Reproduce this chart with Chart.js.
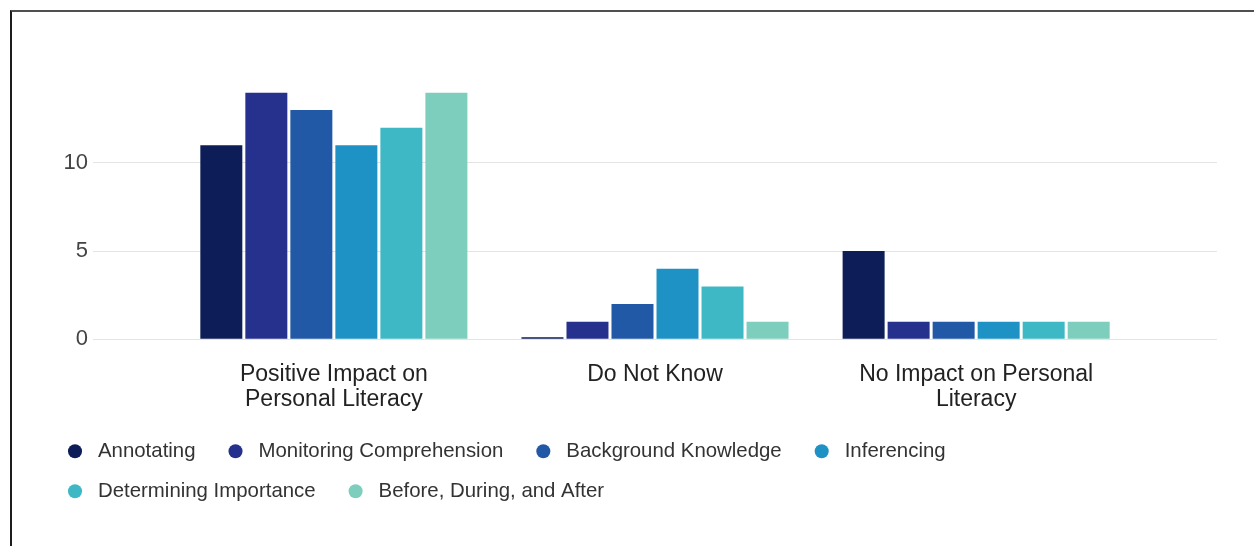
<!DOCTYPE html>
<html>
<head>
<meta charset="utf-8">
<script src="https://cdn.jsdelivr.net/npm/chart.js@4.4.1/dist/chart.umd.min.js"></script>
<style>
  html, body { margin: 0; padding: 0; background: #ffffff; }
  #wrap { position: relative; width: 1254px; height: 546px; overflow: hidden; background: #ffffff; }
  #frame {
    position: absolute; left: 10px; top: 10px; width: 1400px; height: 700px;
    border-top: 2px solid #505050; border-left: 2px solid #1c1c1c;
  }
  #chart { position: absolute; left: 0; top: 0; }
</style>
</head>
<body>
<div id="wrap">
  <div id="frame"></div>
  <canvas id="chart" width="1254" height="546"></canvas>
</div>
<script>
// Response categories (multi-line labels on the x axis)
const categories = [
  ["Positive Impact on", "Personal Literacy"],
  "Do Not Know",
  ["No Impact on Personal", "Literacy"]
];

// Reading strategies (one series each)
const seriesNames = [
  "Annotating",
  "Monitoring Comprehension",
  "Background Knowledge",
  "Inferencing",
  "Determining Importance",
  "Before, During, and After"
];

// Counts per category, in the order of `categories`
const annotating            = [11, 0, 5];
const monitoring            = [14, 1, 1];
const backgroundKnowledge   = [13, 2, 1];
const inferencing           = [11, 4, 1];
const determiningImportance = [12, 3, 1];
const beforeDuringAfter     = [14, 1, 1];

const seriesValues = [annotating, monitoring, backgroundKnowledge, inferencing, determiningImportance, beforeDuringAfter];
const seriesColors = ["#0c1d57", "#26318e", "#2259a6", "#1f92c5", "#3fb8c6", "#7dcebc"];

// Value axis
const yTicks = [0, 5, 10];
const yMax = 14;

const FONT = '"Liberation Sans", Arial, sans-serif';

// Legend drawn as a left-aligned flowing list of dots + names below the plot
const flowLegend = {
  id: 'flowLegend',
  afterDraw(chart) {
    const ctx = chart.ctx;
    const left = 75, radius = 7, textGap = 23, itemGap = 40, rowGap = 40, limit = 1190;
    let x = left;
    let y = chart.chartArea.bottom + 112;
    ctx.save();
    ctx.font = '20.4px ' + FONT;
    ctx.textBaseline = 'middle';
    ctx.textAlign = 'left';
    chart.data.datasets.forEach(ds => {
      const w = ctx.measureText(ds.label).width;
      if (x !== left && x + textGap + w > limit) {
        x = left;
        y += rowGap;
      }
      ctx.fillStyle = ds.backgroundColor;
      ctx.beginPath();
      ctx.arc(x, y, radius, 0, Math.PI * 2);
      ctx.fill();
      ctx.fillStyle = '#333333';
      ctx.fillText(ds.label, x + textGap, y);
      x += textGap + w + itemGap;
    });
    ctx.restore();
  }
};

new Chart(document.getElementById('chart'), {
  type: 'bar',
  data: {
    labels: categories.map((_, i) => i),
    datasets: seriesNames.map((name, i) => ({
      label: name,
      data: seriesValues[i],
      backgroundColor: seriesColors[i],
      borderWidth: 0,
      categoryPercentage: 0.841,
      barPercentage: 0.933,
      minBarLength: 2
    }))
  },
  options: {
    responsive: false,
    animation: false,
    devicePixelRatio: 1,
    layout: { padding: { top: 92.4, right: 37, bottom: 126.7, left: 0 } },
    plugins: {
      legend: { display: false },
      tooltip: { enabled: false }
    },
    scales: {
      x: {
        type: 'linear',
        min: -0.75,
        max: 2.75,
        offset: false,
        grid: { display: false },
        border: { display: false },
        afterBuildTicks: s => { s.ticks = categories.map((_, i) => ({ value: i })); },
        afterFit: s => { s.height = 80; },
        ticks: {
          autoSkip: false,
          maxRotation: 0,
          padding: 15,
          color: '#222222',
          font: { family: FONT, size: 23, lineHeight: 1.09 },
          callback: v => categories[v]
        }
      },
      y: {
        min: 0,
        max: yMax,
        grid: { color: '#e4e4e4', lineWidth: 1, drawTicks: false },
        border: { display: false },
        afterBuildTicks: s => { s.ticks = yTicks.map(v => ({ value: v })); },
        afterFit: s => { s.width = 93; },
        ticks: {
          padding: 5,
          color: '#444444',
          font: { family: FONT, size: 22 }
        }
      }
    }
  },
  plugins: [flowLegend]
});
</script>
</body>
</html>
